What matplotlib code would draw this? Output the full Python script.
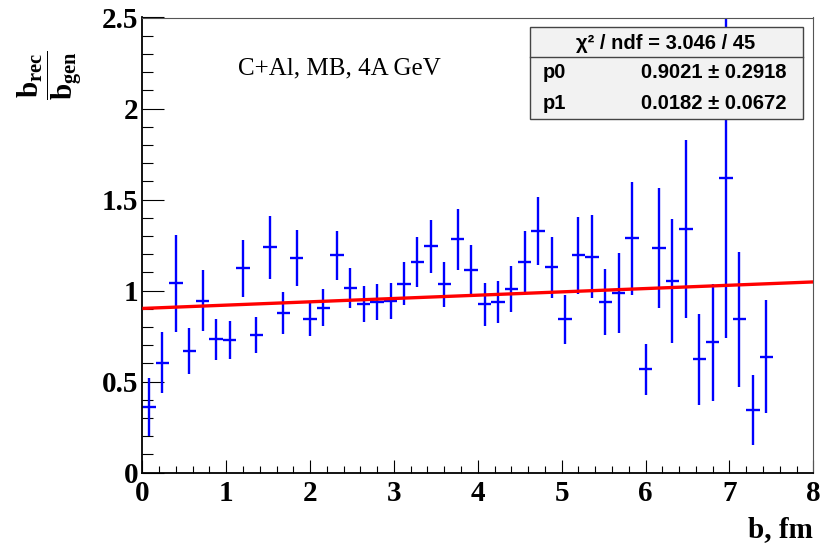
import matplotlib
matplotlib.use("Agg")
import matplotlib.pyplot as plt
from matplotlib.patches import Rectangle
from matplotlib.ticker import MultipleLocator
import numpy as np

# ---------------- data ----------------
b_centers = [0.08, 0.24, 0.40, 0.56, 0.72, 0.88, 1.04, 1.20, 1.36, 1.52,
             1.68, 1.84, 2.00, 2.16, 2.32, 2.48, 2.64, 2.80, 2.96, 3.12,
             3.28, 3.44, 3.60, 3.76, 3.92, 4.08, 4.24, 4.40, 4.56, 4.72,
             4.88, 5.04, 5.20, 5.36, 5.52, 5.68, 5.84, 6.00, 6.16, 6.32,
             6.48, 6.64, 6.80, 6.96, 7.12, 7.28, 7.44]
bin_half_width = 0.08
ratio = [0.36, 0.605, 1.04, 0.668, 0.944, 0.732, 0.727, 1.122, 0.757, 1.237,
         0.878, 1.180, 0.842, 0.906, 1.193, 1.014, 0.924, 0.937, 0.944, 1.039,
         1.155, 1.244, 1.034, 1.283, 1.111, 0.924, 0.937, 1.008, 1.155, 1.327,
         1.129, 0.842, 1.193, 1.186, 0.937, 0.988, 1.288, 0.567, 1.232, 1.052,
         1.339, 0.624, 0.716, 1.621, 0.842, 0.344, 0.637]
ratio_err = [0.16, 0.17, 0.267, 0.128, 0.168, 0.114, 0.105, 0.156, 0.099, 0.173,
             0.114, 0.155, 0.089, 0.103, 0.137, 0.112, 0.099, 0.098, 0.099, 0.118,
             0.137, 0.146, 0.123, 0.168, 0.137, 0.116, 0.116, 0.128, 0.170, 0.186,
             0.168, 0.133, 0.21, 0.229, 0.182, 0.22, 0.311, 0.14, 0.33, 0.34,
             0.49, 0.25, 0.32, 0.88, 0.37, 0.19, 0.31]
p0, p0_err = 0.9021, 0.2918
p1, p1_err = 0.0182, 0.0672
chi2, ndf = 3.046, 45
fit_range = [0.0, 8.0]

# ---------------- style ----------------
plt.rcParams['mathtext.fontset'] = 'custom'
plt.rcParams['mathtext.rm'] = 'Liberation Serif'
plt.rcParams['mathtext.bf'] = 'Liberation Serif:bold'
plt.rcParams['mathtext.it'] = 'Liberation Serif:italic'

W, H = 829, 545
fig = plt.figure(figsize=(W / 100, H / 100), dpi=100)

def fx(px):
    return px / W

def fy(py):
    return 1 - py / H

ax_l, ax_r, ax_t, ax_b = 142.3, 813.3, 17.5, 472.7
ax = fig.add_axes([fx(ax_l), fy(ax_b), fx(ax_r) - fx(ax_l), fy(ax_t) - fy(ax_b)])

ax.errorbar(b_centers, ratio, yerr=ratio_err, xerr=bin_half_width,
            fmt='none', ecolor='#0000ff', elinewidth=1.7, capsize=0, zorder=2)

xf = np.array(fit_range)
ax.plot(xf, p0 + p1 * xf, color='#ff0000', lw=2.4, zorder=3,
        solid_capstyle='butt')

ax.set_xlim(0, 8)
ax.set_ylim(0, 2.5)

ax.xaxis.set_major_locator(MultipleLocator(1))
ax.xaxis.set_minor_locator(MultipleLocator(0.2))
ax.yaxis.set_major_locator(MultipleLocator(0.5))
ax.yaxis.set_minor_locator(MultipleLocator(0.1))

ax.tick_params(axis='both', which='both', direction='in', top=False, right=False,
               color='black', width=0.8)
ax.tick_params(axis='y', which='major', length=16, pad=3)
ax.tick_params(axis='y', which='minor', length=8)
ax.tick_params(axis='x', which='major', length=9.5, pad=5)
ax.tick_params(axis='x', which='minor', length=5)

ax.set_xticks([0, 1, 2, 3, 4, 5, 6, 7, 8])
ax.set_xticklabels(['0', '1', '2', '3', '4', '5', '6', '7', '8'])
ax.set_yticks([0, 0.5, 1, 1.5, 2, 2.5])
ax.set_yticklabels(['0', '0.5', '1', '1.5', '2', '2.5'])
for lab in ax.get_xticklabels() + ax.get_yticklabels():
    lab.set_fontfamily('Liberation Serif')
    lab.set_fontweight('bold')
    lab.set_fontsize(21)

for s in ['left', 'bottom']:
    ax.spines[s].set_color('black')
    ax.spines[s].set_linewidth(1.3)
for s in ['top', 'right']:
    ax.spines[s].set_color('#555555')
    ax.spines[s].set_linewidth(0.8)

# axis titles
fig.text(fx(813), fy(530), 'b, fm', ha='right', va='center',
         fontfamily='Liberation Serif', fontweight='bold', fontsize=21)
fig.text(fx(50), fy(50), r'$\dfrac{\mathbf{b}_{\mathbf{rec}}}{\mathbf{b}_{\mathbf{gen}}}$',
         rotation=90, ha='center', va='top', fontsize=21)

# annotation
fig.text(fx(238), fy(68), 'C+Al, MB, 4A GeV', ha='left', va='center',
         fontfamily='Liberation Serif', fontsize=18)

# stats box
bx0, bx1, by0, by1, bsep = 530, 802.7, 27.3, 119, 57.3
fig.add_artist(Rectangle((fx(bx0), fy(by1)), fx(bx1) - fx(bx0), fy(by0) - fy(by1),
                         transform=fig.transFigure, facecolor='#f2f2f2',
                         edgecolor='#444444', lw=1.0, zorder=5))
fig.add_artist(plt.Line2D([fx(bx0), fx(bx1)], [fy(bsep), fy(bsep)],
                          transform=fig.transFigure, color='#444444', lw=1.0, zorder=6))
sfont = dict(fontfamily='Liberation Sans', fontweight='bold', fontsize=14.5, zorder=7)
fig.text(fx(666), fy(43), 'χ² / ndf = %.3f / %d' % (chi2, ndf),
         ha='center', va='center', **sfont)
fig.text(fx(543), fy(73), 'p0', ha='left', va='center', **sfont)
fig.text(fx(787), fy(73), '%.4f ± %.4f' % (p0, p0_err), ha='right', va='center', **sfont)
fig.text(fx(543), fy(103), 'p1', ha='left', va='center', **sfont)
fig.text(fx(787), fy(103), '%.4f ± %.4f' % (p1, p1_err), ha='right', va='center', **sfont)

fig.savefig('out.png', dpi=100)
